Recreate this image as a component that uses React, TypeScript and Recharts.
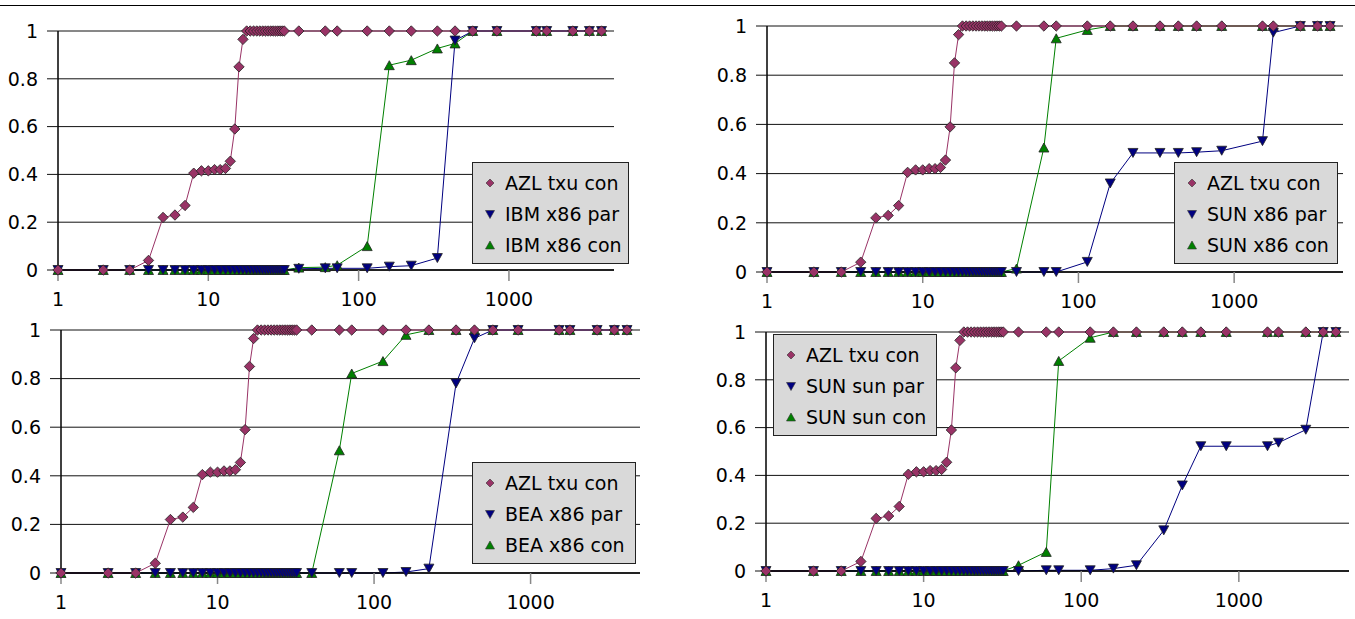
import React from "react";
import { LineChart, Line, XAxis, YAxis, CartesianGrid } from "recharts";

// shared x positions (log axis)
const xValues = [
  1, 2, 3, 4, 5, 6, 7, 8, 9, 10, 11, 12, 13, 14, 15, 16,
  17, 18, 19, 20, 21, 22, 23, 24, 25, 26, 27, 28, 29, 30, 31, 32,
  40, 60, 72, 114, 160, 224, 334, 438, 574, 832, 1520, 1784, 2660, 3430, 4130,
];

const azlTxuCon = [
  0, 0, 0, 0.04, 0.22, 0.23, 0.27, 0.405, 0.415, 0.415, 0.42, 0.42, 0.425, 0.455, 0.59, 0.85,
  0.965, 1, 1, 1, 1, 1, 1, 1, 1, 1, 1, 1, 1, 1, 1, 1,
  1, 1, 1, 1, 1, 1, 1, 1, 1, 1, 1, 1, 1, 1, 1,
];

const ibmX86Par = [
  0, 0, 0, 0, 0, 0, 0, 0, 0, 0, 0, 0, 0, 0, 0, 0,
  0, 0, 0, 0, 0, 0, 0, 0, 0, 0, 0, 0, 0, 0, 0, 0,
  0.005, 0.007, 0.007, 0.007, 0.014, 0.018, 0.05, 0.96, 1, 1, 1, 1, 1, 1, 1,
];
const ibmX86Con = [
  0, 0, 0, 0, 0, 0, 0, 0, 0, 0, 0, 0, 0, 0, 0, 0,
  0, 0, 0, 0, 0, 0, 0, 0, 0, 0, 0, 0, 0, 0, 0, 0,
  0.01, 0.012, 0.02, 0.1, 0.857, 0.878, 0.927, 0.948, 1, 1, 1, 1, 1, 1, 1,
];

const sunX86Par = [
  0, 0, 0, 0, 0, 0, 0, 0, 0, 0, 0, 0, 0, 0, 0, 0,
  0, 0, 0, 0, 0, 0, 0, 0, 0, 0, 0, 0, 0, 0, 0, 0,
  0, 0, 0, 0.041, 0.36, 0.484, 0.484, 0.484, 0.487, 0.493, 0.532, 0.973, 1, 1, 1,
];
const sunX86Con = [
  0, 0, 0, 0, 0, 0, 0, 0, 0, 0, 0, 0, 0, 0, 0, 0,
  0, 0, 0, 0, 0, 0, 0, 0, 0, 0, 0, 0, 0, 0, 0, 0,
  0.014, 0.506, 0.95, 0.984, 1, 1, 1, 1, 1, 1, 1, 1, 1, 1, 1,
];

const beaX86Par = [
  0, 0, 0, 0, 0, 0, 0, 0, 0, 0, 0, 0, 0, 0, 0, 0,
  0, 0, 0, 0, 0, 0, 0, 0, 0, 0, 0, 0, 0, 0, 0, 0,
  0, 0, 0, 0, 0.004, 0.018, 0.78, 0.966, 1, 1, 1, 1, 1, 1, 1,
];
const beaX86Con = [
  0, 0, 0, 0, 0, 0, 0, 0, 0, 0, 0, 0, 0, 0, 0, 0,
  0, 0, 0, 0, 0, 0, 0, 0, 0, 0, 0, 0, 0, 0, 0, 0,
  0, 0.505, 0.821, 0.872, 0.98, 1, 1, 1, 1, 1, 1, 1, 1, 1, 1,
];

const sunSunPar = [
  0, 0, 0, 0, 0, 0, 0, 0, 0, 0, 0, 0, 0, 0, 0, 0,
  0, 0, 0, 0, 0, 0, 0, 0, 0, 0, 0, 0, 0, 0, 0, 0,
  0, 0.003, 0.003, 0.003, 0.01, 0.024, 0.17, 0.358, 0.522, 0.522, 0.522, 0.537, 0.591, 1, 1,
];
const sunSunCon = [
  0, 0, 0, 0, 0, 0, 0, 0, 0, 0, 0, 0, 0, 0, 0, 0,
  0, 0, 0, 0, 0, 0, 0, 0, 0, 0, 0, 0, 0, 0, 0, 0,
  0.024, 0.08, 0.879, 0.976, 1, 1, 1, 1, 1, 1, 1, 1, 1, 1, 1,
];

const xTicks = [1, 10, 100, 1000];
const yTicks = [0, 0.2, 0.4, 0.6, 0.8, 1];

const PLUM = "#993366";
const NAVY = "#000080";
const GREEN = "#008000";
const FONT = "'DejaVu Sans', Verdana, sans-serif";

const Diamond = (p: any) => {
  const { cx, cy } = p;
  if (cx == null || cy == null) return <g key={p.index} />;
  const r = 5.2;
  return (
    <polygon
      key={p.index}
      points={`${cx},${cy - r} ${cx + r},${cy} ${cx},${cy + r} ${cx - r},${cy}`}
      fill={PLUM}
      stroke="#222"
      strokeWidth={0.8}
    />
  );
};

const TriDown = (p: any) => {
  const { cx, cy } = p;
  if (cx == null || cy == null) return <g key={p.index} />;
  return (
    <polygon
      key={p.index}
      points={`${cx - 5},${cy - 4.5} ${cx + 5},${cy - 4.5} ${cx},${cy + 4.5}`}
      fill={NAVY}
      stroke="#222"
      strokeWidth={0.8}
    />
  );
};

const TriUp = (p: any) => {
  const { cx, cy } = p;
  if (cx == null || cy == null) return <g key={p.index} />;
  return (
    <polygon
      key={p.index}
      points={`${cx - 5},${cy + 4.5} ${cx + 5},${cy + 4.5} ${cx},${cy - 4.5}`}
      fill={GREEN}
      stroke="#222"
      strokeWidth={0.8}
    />
  );
};

const LegendMark = ({ kind }: { kind: string }) => (
  <svg width={12} height={12} style={{ display: "block" }}>
    {kind === "d" && <polygon points="6,2 10,6 6,10 2,6" fill={PLUM} stroke="#333" strokeWidth={0.6} />}
    {kind === "v" && <polygon points="1.5,2.5 10.5,2.5 6,10.5" fill={NAVY} stroke="#333" strokeWidth={0.6} />}
    {kind === "a" && <polygon points="1.5,10 10.5,10 6,2" fill={GREEN} stroke="#333" strokeWidth={0.6} />}
  </svg>
);

interface PanelProps {
  x0: number; x1: number; yTop: number; yBot: number;
  par: number[]; con: number[];
  names: string[];
  legend: { left: number; top: number; width: number };
}

const Panel = ({ x0, x1, yTop, yBot, par, con, names, legend }: PanelProps) => {
  const padL = 60;
  const padT = 12;
  const padR = 12;
  const axisH = 45;
  const width = x1 - x0 + padL + padR;
  const height = yBot - yTop + padT + axisH;
  const data = xValues.map((x, i) => ({ x, azl: azlTxuCon[i], par: par[i], con: con[i] }));
  const kinds = ["d", "v", "a"];
  return (
    <>
      <div style={{ position: "absolute", left: x0 - padL, top: yTop - padT }}>
        <LineChart width={width} height={height} data={data} margin={{ top: padT, right: padR, left: 0, bottom: 0 }}>
          <CartesianGrid horizontal vertical={false} stroke="#111" strokeWidth={1} />
          <XAxis
            dataKey="x"
            type="number"
            scale="log"
            domain={[1, 5000]}
            ticks={xTicks}
            height={axisH}
            axisLine={{ stroke: "#000", strokeWidth: 1.5 }}
            tickLine={{ stroke: "#888", strokeWidth: 1.5 }}
            tickSize={11}
            tickMargin={12}
            tick={{ fill: "#000", fontSize: 19, fontFamily: FONT }}
          />
          <YAxis
            type="number"
            domain={[0, 1]}
            ticks={yTicks}
            width={padL}
            axisLine={{ stroke: "#000", strokeWidth: 1.5 }}
            tickLine={{ stroke: "#111", strokeWidth: 1 }}
            tickSize={11}
            tickMargin={9}
            tick={{ fill: "#000", fontSize: 19, fontFamily: FONT }}
          />
          <Line dataKey="con" type="linear" stroke={GREEN} strokeWidth={1} dot={TriUp} activeDot={false} isAnimationActive={false} />
          <Line dataKey="par" type="linear" stroke={NAVY} strokeWidth={1} dot={TriDown} activeDot={false} isAnimationActive={false} />
          <Line dataKey="azl" type="linear" stroke={PLUM} strokeWidth={1} dot={Diamond} activeDot={false} isAnimationActive={false} />
        </LineChart>
      </div>
      <div
        style={{
          position: "absolute",
          left: legend.left,
          top: legend.top,
          width: legend.width,
          background: "#d9d9d9",
          border: "1px solid #222",
          padding: "4px 0 3px 0",
          fontFamily: FONT,
          fontSize: 19,
          color: "#000",
          boxSizing: "border-box",
        }}
      >
        {names.map((n, i) => (
          <div key={n} style={{ display: "flex", alignItems: "center", height: 31, whiteSpace: "nowrap" }}>
            <div style={{ width: 30, display: "flex", justifyContent: "center", paddingLeft: 2 }}>
              <LegendMark kind={kinds[i]} />
            </div>
            <span>{n}</span>
          </div>
        ))}
      </div>
    </>
  );
};

export default function App() {
  return (
    <div style={{ position: "absolute", left: 0, top: 0, width: 1355, height: 619, background: "#fff", overflow: "hidden" }}>
      <div style={{ position: "absolute", left: 0, top: 5, width: 1355, height: 1, background: "#000" }} />
      <Panel
        x0={58} x1={614} yTop={31} yBot={270}
        par={ibmX86Par} con={ibmX86Con}
        names={["AZL txu con", "IBM x86 par", "IBM x86 con"]}
        legend={{ left: 472, top: 162, width: 157 }}
      />
      <Panel
        x0={767} x1={1343} yTop={26} yBot={272}
        par={sunX86Par} con={sunX86Con}
        names={["AZL txu con", "SUN x86 par", "SUN x86 con"]}
        legend={{ left: 1174, top: 162, width: 164 }}
      />
      <Panel
        x0={61} x1={640} yTop={330} yBot={573}
        par={beaX86Par} con={beaX86Con}
        names={["AZL txu con", "BEA x86 par", "BEA x86 con"]}
        legend={{ left: 472, top: 462, width: 164 }}
      />
      <Panel
        x0={766} x1={1349} yTop={332} yBot={571}
        par={sunSunPar} con={sunSunCon}
        names={["AZL txu con", "SUN sun par", "SUN sun con"]}
        legend={{ left: 773, top: 334, width: 164 }}
      />
    </div>
  );
}
